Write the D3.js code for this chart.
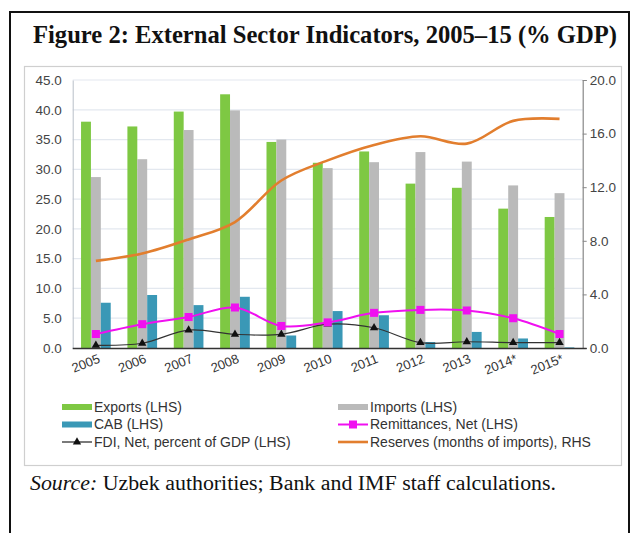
<!DOCTYPE html>
<html>
<head>
<meta charset="utf-8">
<script src="https://cdn.jsdelivr.net/npm/d3@7"></script>
<style>
  html, body { margin: 0; padding: 0; background: #fff; }
  svg { display: block; }
</style>
</head>
<body>
<svg id="chart" width="632" height="533"></svg>
<script>
const categories = ["2005","2006","2007","2008","2009","2010","2011","2012","2013","2014*","2015*"];
const exportsLHS = [38.0, 37.2, 39.7, 42.6, 34.6, 31.1, 33.0, 27.6, 26.9, 23.4, 22.0];
const importsLHS = [28.7, 31.7, 36.6, 39.9, 35.0, 30.2, 31.2, 32.9, 31.3, 27.3, 26.0];
const cabLHS = [7.6, 8.9, 7.2, 8.6, 2.1, 6.2, 5.5, 1.0, 2.7, 1.6, 0.1];
const remittancesLHS = [2.35, 4.0, 5.2, 6.8, 3.7, 4.3, 5.9, 6.4, 6.3, 5.0, 2.35];
const fdiLHS = [0.45, 0.8, 3.0, 2.3, 2.3, 4.0, 3.4, 0.9, 1.05, 0.9, 0.9];
const reservesRHS = [6.5, 7.05, 8.1, 9.4, 12.5, 14.0, 15.15, 15.8, 15.25, 16.95, 17.1];
const leftTicks = [0, 5, 10, 15, 20, 25, 30, 35, 40, 45];
const rightTicks = [0, 4, 8, 12, 16, 20];

const svg = d3.select("#chart");
const fontSans = "Arial, 'Liberation Sans', sans-serif";
const fontSerif = "'Liberation Serif', 'Times New Roman', serif";

// outer figure border
svg.append("rect").attr("x", 10).attr("y", 12).attr("width", 619).attr("height", 560)
  .attr("fill", "none").attr("stroke", "#111").attr("stroke-width", 2);

// title
svg.append("text").attr("x", 33).attr("y", 43)
  .attr("font-family", fontSerif).attr("font-weight", "bold").attr("font-size", 25)
  .attr("textLength", 584).attr("lengthAdjust", "spacingAndGlyphs")
  .attr("fill", "#111")
  .text("Figure 2: External Sector Indicators, 2005–15 (% GDP)");

// inner chart panel
svg.append("rect").attr("x", 24.5).attr("y", 66.5).attr("width", 597).attr("height", 399)
  .attr("fill", "#fff").attr("stroke", "#cfcfcf").attr("stroke-width", 1.2);

const plot = { left: 72.7, right: 582.7, top: 80, bottom: 348 };

const x0 = d3.scaleBand().domain(categories).range([plot.left, plot.right]).padding(0);
const bw = x0.bandwidth();
const series = ["exports", "imports", "cab"];
const x1 = d3.scaleBand().domain(series).range([bw * 0.18, bw * 0.82]).padding(0);
const yL = d3.scaleLinear().domain([0, 45]).range([plot.bottom, plot.top]);
const yR = d3.scaleLinear().domain([0, 20]).range([plot.bottom, plot.top]);

// gridlines
svg.append("g").selectAll("line").data(leftTicks.filter(d => d > 0)).join("line")
  .attr("x1", plot.left).attr("x2", plot.right)
  .attr("y1", d => yL(d)).attr("y2", d => yL(d))
  .attr("stroke", "#e3e8ef").attr("stroke-width", 1.2);

// left axis
const gL = svg.append("g").attr("transform", `translate(${plot.left},0)`)
  .call(d3.axisLeft(yL).tickValues(leftTicks).tickFormat(d3.format(".1f")).tickSize(0).tickPadding(11));
gL.select(".domain").attr("stroke", "#b9bfc8");
gL.selectAll("text").attr("font-family", fontSans).attr("font-size", 13.5).attr("fill", "#444");

// right axis
const gR = svg.append("g").attr("transform", `translate(${plot.right},0)`)
  .call(d3.axisRight(yR).tickValues(rightTicks).tickFormat(d3.format(".1f")).tickSize(4).tickPadding(3));
gR.select(".domain").attr("stroke", "#888").attr("stroke-width", 1.2);
gR.selectAll(".tick line").attr("stroke", "#888");
gR.selectAll("text").attr("font-family", fontSans).attr("font-size", 13.5).attr("fill", "#444");

// bars
const barData = categories.map((c, i) => ({ c, vals: [
  { k: "exports", v: exportsLHS[i] }, { k: "imports", v: importsLHS[i] }, { k: "cab", v: cabLHS[i] }] }));
const barColor = { exports: "#7ec843", imports: "#bababa", cab: "#3a98b6" };
svg.append("g").selectAll("g").data(barData).join("g")
  .attr("transform", d => `translate(${x0(d.c)},0)`)
  .selectAll("rect").data(d => d.vals).join("rect")
  .attr("x", d => x1(d.k)).attr("width", x1.bandwidth())
  .attr("y", d => yL(d.v)).attr("height", d => yL(0) - yL(d.v))
  .attr("fill", d => barColor[d.k]);

// x axis baseline
svg.append("line").attr("x1", plot.left).attr("x2", plot.right + 4)
  .attr("y1", plot.bottom + 0.5).attr("y2", plot.bottom + 0.5)
  .attr("stroke", "#333").attr("stroke-width", 1.3);

// x labels
svg.append("g").selectAll("text").data(categories).join("text")
  .attr("transform", d => `translate(${x0(d) + bw / 2 + 5},${plot.bottom + 14}) rotate(-22)`)
  .attr("text-anchor", "end")
  .attr("font-family", fontSans).attr("font-size", 13).attr("fill", "#333")
  .text(d => d);

const cx = c => x0(c) + bw / 2;

// reserves line (RHS)
const lineR = d3.line().x((d, i) => cx(categories[i])).y(d => yR(d)).curve(d3.curveCatmullRom.alpha(0.5));
svg.append("path").datum(reservesRHS).attr("d", lineR)
  .attr("fill", "none").attr("stroke", "#e27e2e").attr("stroke-width", 2.6);

// FDI line
const lineL = d3.line().x((d, i) => cx(categories[i])).y(d => yL(d)).curve(d3.curveCatmullRom.alpha(0.5));
svg.append("path").datum(fdiLHS).attr("d", lineL)
  .attr("fill", "none").attr("stroke", "#333").attr("stroke-width", 1.2);
const tri = d3.symbol().type(d3.symbolTriangle).size(30);
svg.append("g").selectAll("path").data(fdiLHS).join("path")
  .attr("d", tri)
  .attr("transform", (d, i) => `translate(${cx(categories[i])},${yL(d)})`)
  .attr("fill", "#111");

// remittances line
svg.append("path").datum(remittancesLHS).attr("d", lineL)
  .attr("fill", "none").attr("stroke", "#f010f0").attr("stroke-width", 2);
svg.append("g").selectAll("rect").data(remittancesLHS).join("rect")
  .attr("x", (d, i) => cx(categories[i]) - 4).attr("y", d => yL(d) - 4)
  .attr("width", 8).attr("height", 8)
  .attr("fill", "#f010f0");

// legend
const legendItems = [
  { label: "Exports (LHS)", type: "bar", color: "#7ec843", col: 0, row: 0 },
  { label: "Imports (LHS)", type: "bar", color: "#bababa", col: 1, row: 0 },
  { label: "CAB (LHS)", type: "bar", color: "#3a98b6", col: 0, row: 1 },
  { label: "Remittances, Net (LHS)", type: "sq", color: "#f010f0", col: 1, row: 1 },
  { label: "FDI, Net, percent of GDP (LHS)", type: "tri", color: "#222", col: 0, row: 2 },
  { label: "Reserves (months of imports), RHS", type: "line", color: "#e27e2e", col: 1, row: 2 }
];
const colX = [62, 338];
const rowY = [407, 424.5, 442];
const lg = svg.append("g").selectAll("g").data(legendItems).join("g")
  .attr("transform", d => `translate(${colX[d.col]},${rowY[d.row]})`);
lg.each(function(d) {
  const g = d3.select(this);
  if (d.type === "bar") {
    g.append("rect").attr("x", 0).attr("y", -3).attr("width", 30).attr("height", 6).attr("fill", d.color);
  } else if (d.type === "line") {
    g.append("line").attr("x1", 0).attr("x2", 30).attr("y1", 0).attr("y2", 0)
      .attr("stroke", d.color).attr("stroke-width", 2.6);
  } else if (d.type === "sq") {
    g.append("line").attr("x1", 0).attr("x2", 30).attr("y1", 0).attr("y2", 0)
      .attr("stroke", d.color).attr("stroke-width", 2);
    g.append("rect").attr("x", 11).attr("y", -4).attr("width", 8).attr("height", 8).attr("fill", d.color);
  } else if (d.type === "tri") {
    g.append("line").attr("x1", 0).attr("x2", 30).attr("y1", 0).attr("y2", 0)
      .attr("stroke", d.color).attr("stroke-width", 1.2);
    g.append("path").attr("d", tri).attr("transform", "translate(15,0)").attr("fill", "#111");
  }
  g.append("text").attr("x", 32).attr("y", 0).attr("dy", "0.35em")
    .attr("font-family", fontSans).attr("font-size", 14).attr("fill", "#333")
    .text(d.label);
});

// source note
const src = svg.append("text").attr("x", 30).attr("y", 490)
  .attr("font-family", fontSerif).attr("font-size", 20).attr("fill", "#111")
  .attr("textLength", 526).attr("lengthAdjust", "spacingAndGlyphs");
src.append("tspan").attr("font-style", "italic").text("Source:");
src.append("tspan").text(" Uzbek authorities; Bank and IMF staff calculations.");
</script>
</body>
</html>
